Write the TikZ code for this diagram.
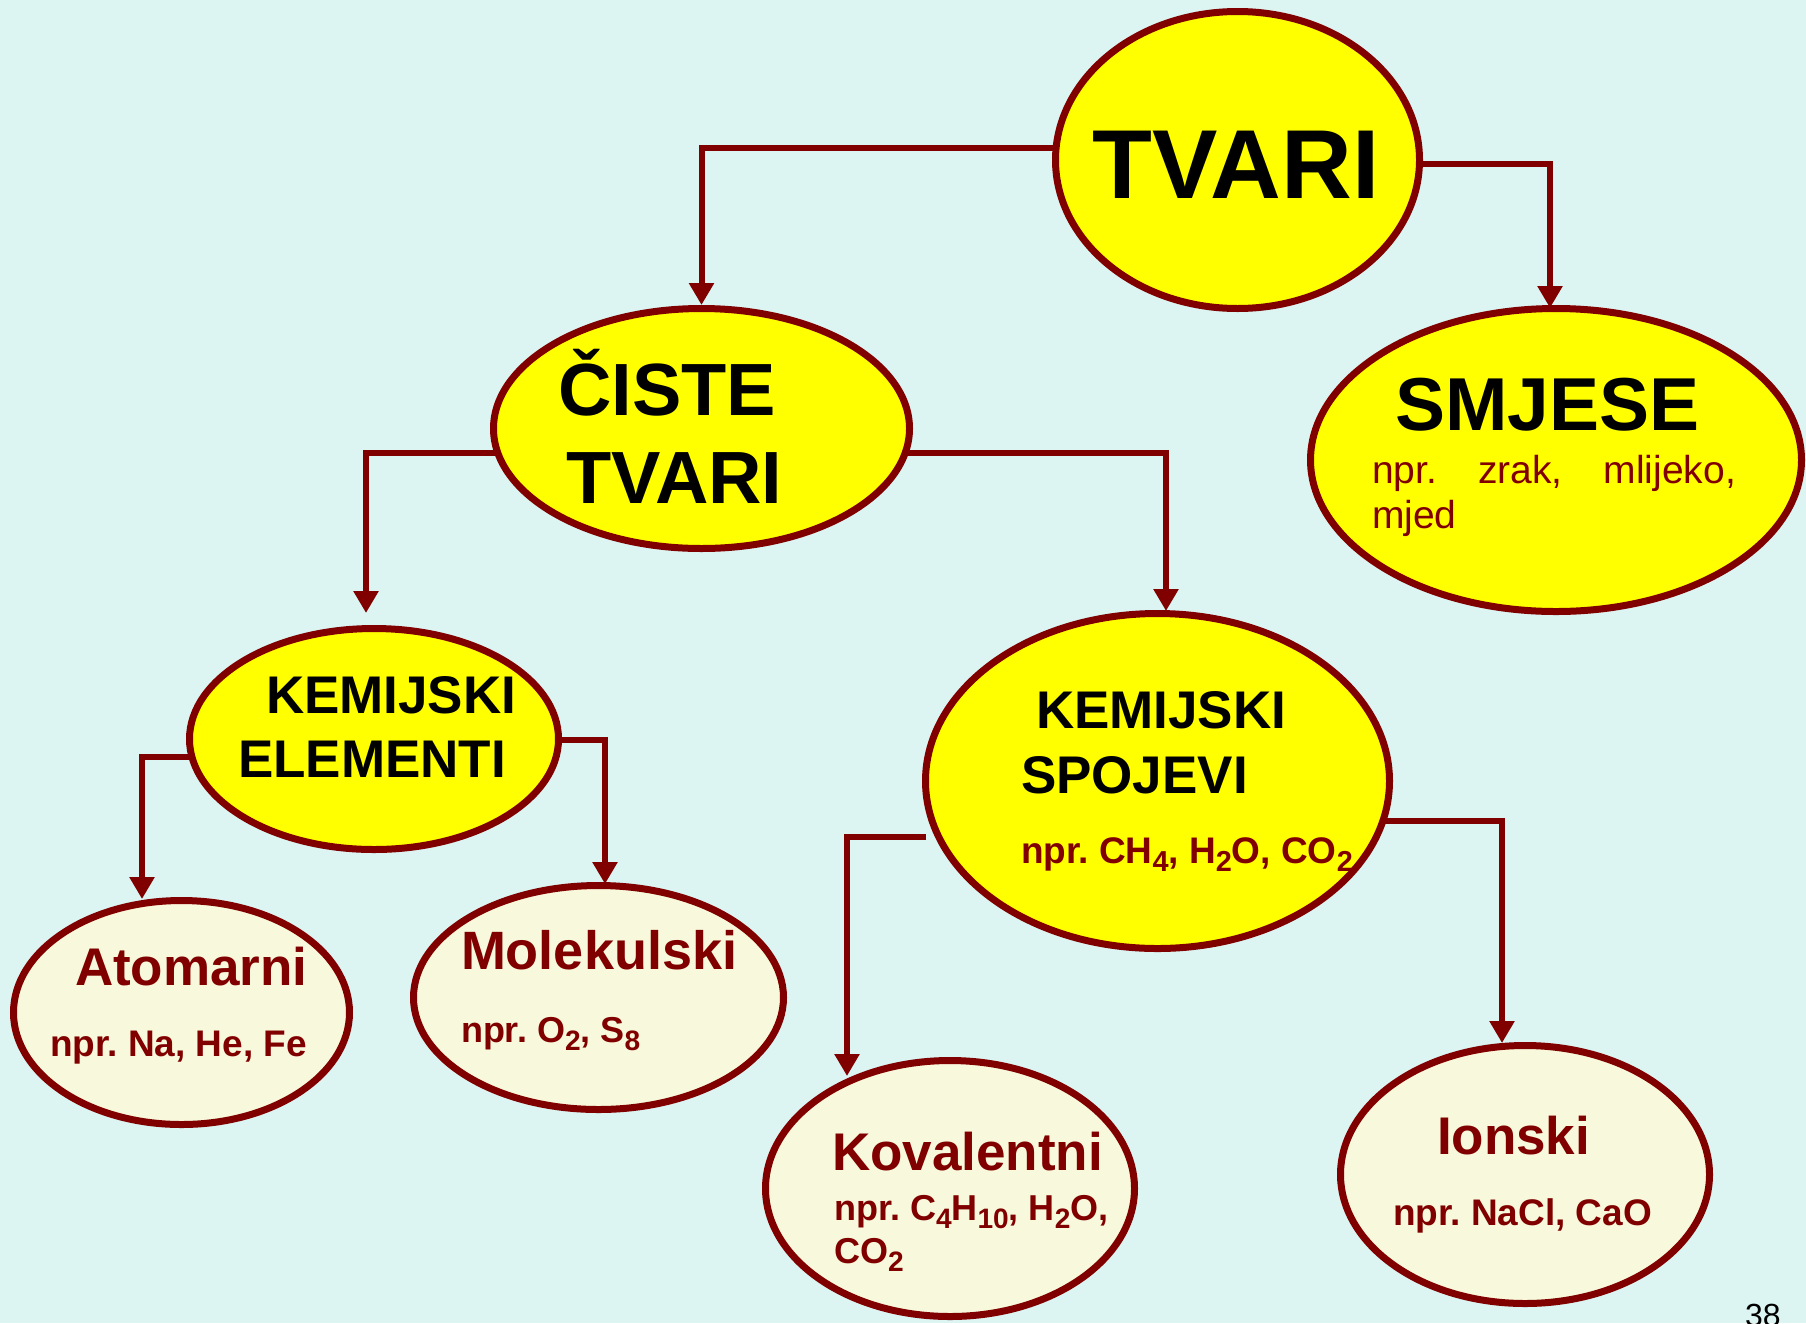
\documentclass[tikz,border=0pt]{standalone}
\usepackage{fontspec}
\setmainfont{Liberation Sans}
\usetikzlibrary{arrows.meta,shapes.geometric,backgrounds}
\definecolor{bgc}{HTML}{DCF5F2}
\definecolor{dred}{HTML}{800000}
\definecolor{ylw}{HTML}{FFFF00}
\definecolor{crm}{HTML}{F8F8DC}
\newcommand{\chsub}[1]{\raisebox{-0.24em}{\scalebox{0.78}{#1}}}
\newcommand{\fs}[1]{\fontsize{#1}{#1}\selectfont}
\frenchspacing
\begin{document}
\begin{tikzpicture}[x=1pt,y=-1pt,
  ell/.style={ellipse, draw=dred, line width=7pt, inner sep=0pt},
  yel/.style={ell, fill=ylw},
  creamell/.style={ell, fill=crm},
  conn/.style={draw=dred, line width=6pt, -{Triangle[width=24pt,length=22pt]}},
  txt/.style={anchor=base west, inner sep=0pt, outer sep=0pt},
  ttlb/.style={txt, text=black},
  ttlr/.style={txt, text=dred},
  ]
\useasboundingbox (0,0) rectangle (1806,1323);
\clip (0,0) rectangle (1806,1323);

% ellipses
\node[yel, minimum width=364pt, minimum height=297pt] (tvari) at (1237.5,160) {};
\node[yel, minimum width=491pt, minimum height=303pt] (smjese) at (1556,460) {};
\node[yel, minimum width=416pt, minimum height=240pt] (ciste) at (701.5,428.5) {};
\node[yel, minimum width=369pt, minimum height=221pt] (kemel) at (374,739) {};
\node[yel, minimum width=464pt, minimum height=335pt] (kemsp) at (1157.5,781) {};
\node[creamell, minimum width=336pt, minimum height=224pt] (atom) at (181.5,1012.5) {};
\node[creamell, minimum width=370pt, minimum height=224pt] (molek) at (598.5,997.5) {};
\node[creamell, minimum width=369pt, minimum height=256pt] (koval) at (950,1188.5) {};
\node[creamell, minimum width=369pt, minimum height=258pt] (ionski) at (1525,1174.5) {};

% texts
\node[ttlb, anchor=base, font=\fs{98}\bfseries] (tTvari) at (1236,198) {TVARI};
\node[ttlb, font=\fs{74}\bfseries] (tCiste1) at (558,415) {ČISTE};
\node[ttlb, font=\fs{74}\bfseries] (tCiste2) at (566,503) {TVARI};
\node[ttlb, font=\fs{75}\bfseries] (tSmj1) at (1395,430) {SMJESE};
\node[ttlr, font=\fs{39}] (tSmj2) at (1372,483) {\makebox[364pt][s]{npr.\ zrak, mlijeko,}};
\node[ttlr, font=\fs{39}] (tSmj3) at (1372,528) {mjed};
\node[ttlb, font=\fs{53}\bfseries] (tKe1) at (266,713) {KEMIJSKI};
\node[ttlb, font=\fs{53}\bfseries] (tKe2) at (238,777) {ELEMENTI};
\node[ttlb, font=\fs{53}\bfseries] (tKs1) at (1036,728) {KEMIJSKI};
\node[ttlb, font=\fs{53}\bfseries] (tKs2) at (1021,793) {SPOJEVI};
\node[ttlr, font=\fs{37}\bfseries] (tKs3) at (1021,863) {npr.\ CH\chsub{4}, H\chsub{2}O, CO\chsub{2}};
\node[ttlr, font=\fs{53}\bfseries] (tAt1) at (75,985) {Atomarni};
\node[ttlr, font=\fs{37}\bfseries] (tAt2) at (50,1056) {npr.\ Na, He, Fe};
\node[ttlr, font=\fs{54}\bfseries] (tMo1) at (461,969) {Molekulski};
\node[ttlr, font=\fs{36}\bfseries] (tMo2) at (461,1042) {npr.\ O\chsub{2}, S\chsub{8}};
\node[ttlr, font=\fs{53}\bfseries] (tKo1) at (832,1170) {Kovalentni};
\node[ttlr, font=\fs{36}\bfseries] (tKo2) at (834,1220) {npr.\ C\chsub{4}H\chsub{10}, H\chsub{2}O,};
\node[ttlr, font=\fs{36}\bfseries] (tKo3) at (834,1263) {CO\chsub{2}};
\node[ttlr, font=\fs{53}\bfseries] (tIo1) at (1437,1154) {Ionski};
\node[ttlr, font=\fs{37}\bfseries] (tIo2) at (1393,1225) {npr.\ NaCl, CaO};
\node[ttlb, font=\fs{32}] (pnum) at (1745,1326) {38};

% connectors and background
\begin{scope}[on background layer]
\fill[bgc] (0,0) rectangle (1806,1323);
\coordinate (y1) at (0,148);
\coordinate (y2) at (0,164);
\coordinate (y3) at (0,453);
\coordinate (y5) at (0,757);
\coordinate (y6) at (0,740);
\coordinate (y8) at (0,821);
\coordinate (e2) at (1550,308);
\coordinate (e3) at (366,613);
\coordinate (e4) at (1166,611);
\coordinate (e5) at (142,899);
\coordinate (e6) at (605,884);
\coordinate (s7) at (926,837);
\coordinate (e7) at (847,1076);
\coordinate (e8) at (1502,1043);
\draw[conn] (tvari.center |- y1) -| (ciste.north);
\draw[conn] (tvari.center |- y2) -| (e2);
\draw[conn] (ciste.center |- y3) -| (e3);
\draw[conn] (ciste.center |- y3) -| (e4);
\draw[conn] (kemel.center |- y5) -| (e5);
\draw[conn] (kemel.center |- y6) -| (e6);
\draw[conn] (s7) -| (e7);
\draw[conn] (kemsp.center |- y8) -| (e8);
\end{scope}
\end{tikzpicture}
\end{document}
